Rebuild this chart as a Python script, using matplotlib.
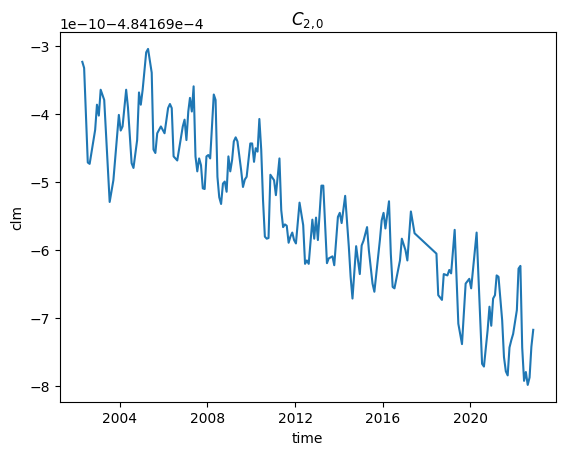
import numpy as np
import matplotlib
matplotlib.use("Agg")
import matplotlib.pyplot as plt

# months counted from 2002-01
months = [3, 4, 6, 7, 10, 11, 12, 13, 15, 18, 20, 23, 24, 25, 27, 28, 30, 31, 33, 34,
          35, 36, 38, 39, 41, 42, 43, 44, 46, 48, 50, 51, 52, 53, 55, 58, 59, 60, 61, 62,
          63, 64, 65, 66, 67, 68, 69, 70, 71, 72, 73, 75, 76, 77, 78, 79, 80, 81, 82, 83,
          84, 85, 86, 87, 88, 90, 91, 92, 93, 95, 96, 97, 98, 99, 100, 101, 102, 103, 104, 105,
          106, 108, 109, 111, 112, 113, 114, 115, 116, 117, 118, 119, 120, 122, 124, 125, 126, 127, 129, 130,
          131, 132, 134, 135, 137, 138, 140, 141, 143, 144, 145, 147, 149, 150, 151, 153, 154, 155, 156, 157,
          159, 160, 162, 163, 166, 167, 168, 169, 171, 172, 173, 174, 177, 178, 180, 181, 183, 185,
          197, 198, 200, 201, 203, 204, 205, 207, 209, 211, 213, 215, 216, 219, 221, 222, 223, 225,
          226, 227, 228, 229, 230, 231, 233, 234, 235, 236, 237, 238, 239, 241, 242, 243, 244, 245,
          246, 247, 248, 249, 250]

# C20 anomaly in units of 1e-10 relative to -4.84169e-4
c20 = [-3.24, -3.33, -4.72, -4.74, -4.24, -3.87, -4.03, -3.65, -3.80, -5.30, -4.98, -4.02, -4.25, -4.19, -3.65, -3.91, -4.73, -4.80, -4.39, -3.69,
       -3.87, -3.65, -3.10, -3.05, -3.40, -4.53, -4.58, -4.29, -4.19, -4.29, -3.92, -3.86, -3.92, -4.63, -4.69, -4.19, -4.09, -4.39, -3.97, -3.77,
       -3.97, -3.60, -4.63, -4.85, -4.66, -4.76, -5.10, -5.11, -4.63, -4.61, -4.66, -3.72, -3.80, -4.93, -5.23, -5.33, -5.03, -5.00, -5.15, -4.63,
       -4.85, -4.68, -4.41, -4.35, -4.41, -4.83, -5.08, -4.97, -4.93, -4.44, -4.44, -4.71, -4.51, -4.56, -4.08, -4.53, -5.27, -5.81, -5.84, -5.83,
       -4.90, -4.98, -5.20, -4.66, -5.42, -5.67, -5.63, -5.65, -5.90, -5.81, -5.75, -5.86, -5.91, -5.31, -5.64, -6.21, -6.16, -6.21, -5.56, -5.84,
       -5.53, -5.86, -5.06, -5.06, -6.20, -6.13, -6.10, -6.23, -5.52, -5.46, -5.61, -5.21, -5.96, -6.40, -6.72, -5.95, -6.16, -6.36, -5.94, -5.87,
       -5.67, -6.01, -6.50, -6.62, -5.86, -5.57, -5.46, -5.69, -5.29, -6.06, -6.55, -6.57, -6.16, -5.84, -6.01, -6.16, -5.44, -5.76,
       -6.06, -6.67, -6.74, -6.36, -6.38, -6.30, -6.35, -5.71, -7.09, -7.39, -6.50, -6.43, -6.57, -5.75, -7.04, -7.68, -7.72, -7.19,
       -6.84, -7.12, -6.72, -6.67, -6.38, -6.40, -7.04, -7.58, -7.79, -7.85, -7.44, -7.33, -7.24, -6.89, -6.28, -6.24, -7.44, -7.93,
       -7.80, -7.99, -7.88, -7.43, -7.18]

offset = -4.84169e-4
scale = 1e-10

time = (np.datetime64("2002-01", "M") + np.array(months)).astype("datetime64[D]") + np.timedelta64(14, "D")
clm = offset + np.array(c20) * scale

fig, ax = plt.subplots()
ax.plot(time, clm)
ax.set_title("$C_{2,0}$")
ax.set_xlabel("time")
ax.set_ylabel("clm")

fig.savefig("out.png", bbox_inches="tight")
